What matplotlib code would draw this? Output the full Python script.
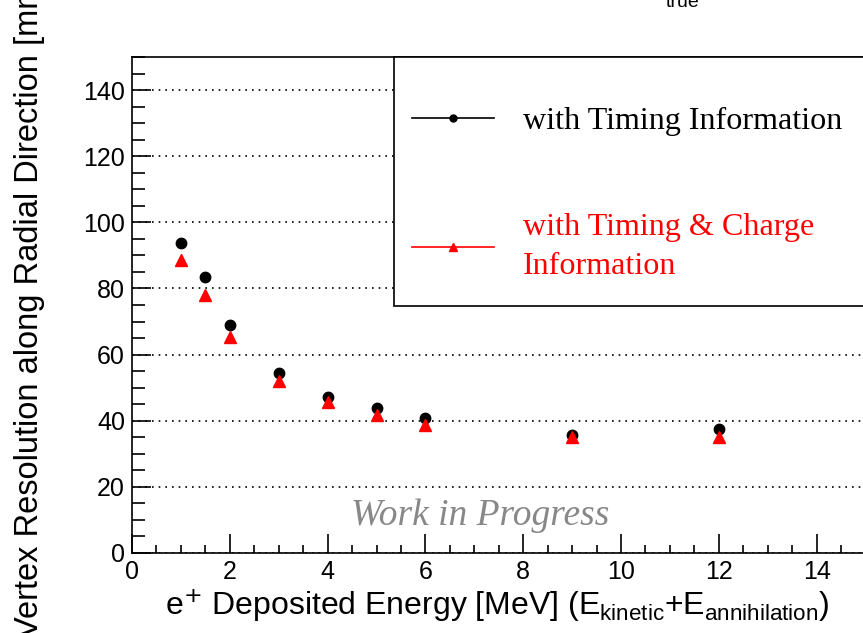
import numpy as np
import matplotlib.pyplot as plt
from matplotlib.lines import Line2D
from matplotlib.patches import Rectangle
from matplotlib.ticker import MultipleLocator

# deposited energy [MeV]
energy = [1, 1.5, 2, 3, 4, 5, 6, 9, 12]

# radial vertex resolution [mm]
res_timing = [93.7, 83.5, 68.9, 54.4, 47.2, 43.8, 40.8, 35.7, 37.5]
res_timing_charge = [88.6, 78.0, 65.3, 52.0, 45.7, 41.7, 38.7, 35.1, 35.1]

sans = "Liberation Sans"
serif = "Liberation Serif"

fig = plt.figure(figsize=(8.63, 6.33), dpi=100)
ax = fig.add_axes([132 / 863, 80 / 633, 733.5 / 863, 496 / 633])

ax.plot(energy, res_timing, "o", color="black", ms=7.5, ls="none")
ax.plot(energy, res_timing_charge, "^", color="red", ms=8, ls="none")

ax.set_xlim(0, 15)
ax.set_ylim(0, 150)
ax.xaxis.set_major_locator(MultipleLocator(2))
ax.xaxis.set_minor_locator(MultipleLocator(0.5))
ax.yaxis.set_major_locator(MultipleLocator(20))
ax.yaxis.set_minor_locator(MultipleLocator(5))
ax.tick_params(which="both", direction="in", top=False, right=False, width=1.2)
ax.tick_params(which="major", length=14, labelsize=18, pad=5)
ax.tick_params(axis="x", which="minor", length=6)
ax.tick_params(axis="y", which="minor", length=9)
for lab in ax.get_xticklabels() + ax.get_yticklabels():
    lab.set_family(sans)
for s in ax.spines.values():
    s.set_linewidth(1.2)
ax.grid(axis="y", which="major", ls=(0, (1, 3)), color="black", lw=1.2)

ax.set_xlabel(r"e$^{+}$ Deposited Energy [MeV] (E$_{\mathregular{kinetic}}$+E$_{\mathregular{annihilation}}$)",
              fontsize=23, family=sans)
ax.xaxis.set_label_coords((497 - 132) / 733.5, (553 - 586) / 496)
# y label and the title subscript run off the canvas in the original too
fig.text(30 / 863, 1 - 305 / 633, "Vertex Resolution along Radial Direction [mm]", rotation=90,
         ha="center", va="center", fontsize=23.5, family=sans)
fig.text(683 / 863, 1 - 7 / 633, "true", ha="center", va="baseline", fontsize=14, family=sans)

ax.text(7.12, 8.47, "Work in Progress", ha="center", va="baseline", fontsize=27,
        family=serif, style="italic", color="#888888")

# legend frame (runs off the right edge like the original)
ax.add_patch(Rectangle((394 / 863, 1 - 306 / 633), 0.6, 249 / 633, transform=fig.transFigure,
                       facecolor="white", edgecolor="black", lw=1.2, clip_on=False, zorder=4))
handles = [
    Line2D([], [], color="black", marker="o", ms=5, lw=1.2),
    Line2D([], [], color="red", marker="^", ms=5.5, lw=1.2),
]
labels = ["with Timing Information", "with Timing & Charge\nInformation"]
leg = ax.legend(handles, labels, loc="upper left", bbox_to_anchor=(412 / 863, 1 - 107 / 633),
                bbox_transform=fig.transFigure, prop={"family": serif, "size": 23.1},
                frameon=False, handlelength=2.55, handletextpad=0.9, borderpad=0,
                borderaxespad=0, labelspacing=2.4, numpoints=1)
leg.set_zorder(5)
leg.get_texts()[1].set_color("red")
leg.get_texts()[1].set_linespacing(1.44)

fig.savefig("out.png", dpi=100)
